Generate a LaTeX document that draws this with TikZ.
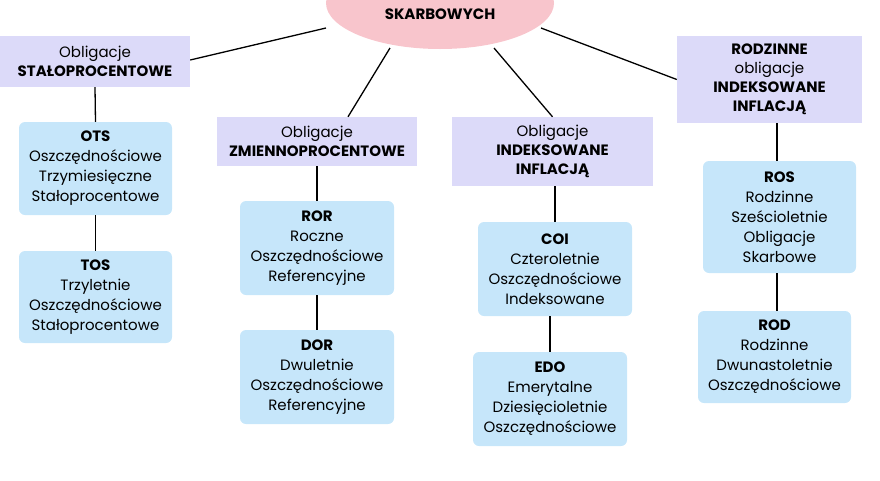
\documentclass[tikz,border=0pt]{standalone}
\usepackage{fontspec}
\setmainfont{Poppins}
\usetikzlibrary{shapes.geometric}
\definecolor{lav}{HTML}{DCDAF9}
\definecolor{lblue}{HTML}{C6E6FA}
\definecolor{pinkc}{HTML}{F8C5CC}
\begin{document}
\begin{tikzpicture}[x=1pt,y=-1pt,
  cat/.style={fill=lav,draw=none,align=center,font=\fontsize{15}{19}\selectfont,inner sep=0pt},
  bond/.style={fill=lblue,draw=none,rounded corners=6pt,align=center,font=\fontsize{15}{20}\selectfont,inner sep=0pt},
  ln/.style={line width=1.3pt,black}]
\useasboundingbox (0,0) rectangle (880,480);
\begin{scope}
\clip (0,0) rectangle (880,480);
\node[ellipse,fill=pinkc,minimum width=228pt,minimum height=92pt,inner sep=0pt] (root) at (440,3) {};
\end{scope}
\node[font=\fontsize{15}{18}\selectfont\bfseries] at (440,14) {SKARBOWYCH};
\node[cat,minimum width=190pt,minimum height=51pt] (st) at (95,61.5) {Obligacje\\\textbf{STAŁOPROCENTOWE}};
\node[cat,minimum width=200pt,minimum height=49pt] (zm) at (317,141.5) {Obligacje\\\textbf{ZMIENNOPROCENTOWE}};
\node[cat,minimum width=201pt,minimum height=69pt] (in) at (552.5,151.5) {Obligacje\\\textbf{INDEKSOWANE}\\\textbf{INFLACJĄ}};
\node[cat,minimum width=185pt,minimum height=87pt] (ro) at (769.5,79.5) {\textbf{RODZINNE}\\obligacje\\\textbf{INDEKSOWANE}\\\textbf{INFLACJĄ}};
\node[bond,minimum width=153pt,minimum height=93pt] (ots) at (95.5,168.5) {\textbf{OTS}\\Oszczędnościowe\\Trzymiesięczne\\Stałoprocentowe};
\node[bond,minimum width=153pt,minimum height=92pt] (tos) at (95.5,297) {\textbf{TOS}\\Trzyletnie\\Oszczędnościowe\\Stałoprocentowe};
\node[bond,minimum width=154pt,minimum height=94pt] (ror) at (317,248) {\textbf{ROR}\\Roczne\\Oszczędnościowe\\Referencyjne};
\node[bond,minimum width=154pt,minimum height=94pt] (dor) at (317,377) {\textbf{DOR}\\Dwuletnie\\Oszczędnościowe\\Referencyjne};
\node[bond,minimum width=154pt,minimum height=94pt] (coi) at (555,269) {\textbf{COI}\\Czteroletnie\\Oszczędnościowe\\Indeksowane};
\node[bond,minimum width=154pt,minimum height=94pt] (edo) at (550,399) {\textbf{EDO}\\Emerytalne\\Dziesięcioletnie\\Oszczędnościowe};
\node[bond,minimum width=153pt,minimum height=112pt] (ros) at (779.5,217) {\textbf{ROS}\\Rodzinne\\Sześcioletnie\\Obligacje\\Skarbowe};
\node[bond,minimum width=153pt,minimum height=92pt] (rod) at (774.5,357) {\textbf{ROD}\\Rodzinne\\Dwunastoletnie\\Oszczędnościowe};
\coordinate (e1) at (326,28);
\coordinate (e2) at (390,48);
\coordinate (e3) at (494,48);
\coordinate (e4) at (541,28);
\draw[ln] (st.east |- 0,60) -- (e1);
\draw[ln] (e2) -- (zm.north -| 348,0);
\draw[ln] (e3) -- (in.north);
\draw[ln] (e4) -- (ro.west);
\draw[ln] (st.south) -- (ots.north);
\draw[ln] (ots.south) -- (tos.north);
\draw[ln] (zm.south) -- (ror.north);
\draw[ln] (ror.south) -- (dor.north);
\draw[ln] (in.south -| coi.north) -- (coi.north);
\draw[ln] (coi.south -| edo.north) -- (edo.north);
\draw[ln] (ro.south -| 777,0) -- (ros.north -| 777,0);
\draw[ln] (ros.south -| 777,0) -- (rod.north -| 777,0);
\end{tikzpicture}
\end{document}
